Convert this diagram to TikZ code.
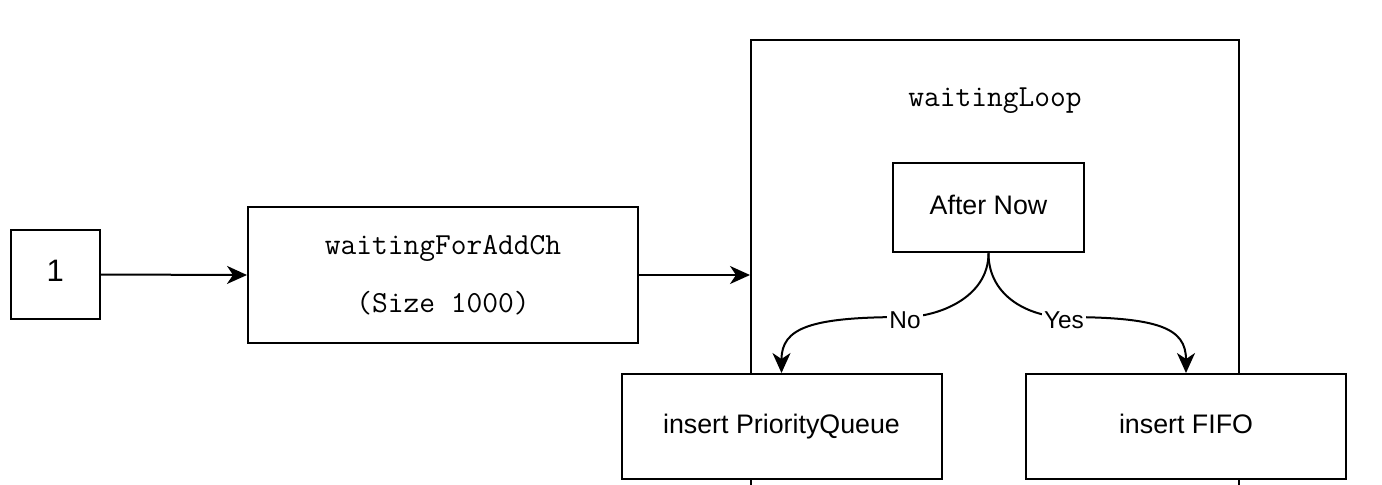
\documentclass[tikz,border=0pt]{standalone}
\usepackage{fontspec}
\setmainfont{Liberation Sans}
\usetikzlibrary{arrows.meta}
\begin{document}
\begin{tikzpicture}[x=0.5pt,y=-0.5pt,
  box/.style={draw, line width=1pt, fill=white, inner sep=0pt, text height=0.72em, text depth=0pt, font=\fontsize{13.4}{16}\selectfont},
  arr/.style={-{Stealth[length=10pt,width=9pt,inset=3pt]}, line width=1pt},
  lbl/.style={fill=white, inner sep=1pt, yshift=-1.5pt, font=\fontsize{12.2}{14}\selectfont},
  code/.style={font=\ttfamily\fontsize{15.3}{29}\selectfont, align=center}]
\useasboundingbox (0,0) rectangle (1382,484);
\clip (0,0) rectangle (1382,484);
% outer loop box (runs past bottom edge)
\node[draw, line width=1pt, minimum width=244pt, minimum height=260pt, inner sep=0pt] (loop) at (995,300) {};
\node[code] (looplbl) at (995,101) {waitingLoop};
% boxes
\node[box, font=\fontsize{15.5}{18}\selectfont, minimum width=44.7pt, minimum height=44.5pt] (b1) at (55.3,274.5) {1};
\node[draw, fill=white, line width=1pt, inner sep=0pt, code, minimum width=195pt, minimum height=68pt] (wfa) at (443,275) {waitingForAddCh\\(Size 1000)};
\node[box, minimum width=95.5pt, minimum height=44.75pt] (an) at (988.5,207.5) {After Now};
\node[box, minimum width=160pt, minimum height=52.5pt] (pq) at (781.5,426.5) {insert PriorityQueue};
\node[box, minimum width=160pt, minimum height=52.5pt] (fifo) at (1186,426.5) {insert FIFO};
% connectors
\draw[arr] (b1.east) -- (wfa.west);
\draw[arr] (wfa.east) -- (wfa.east -| loop.west);
\draw[arr] (an.south) .. controls +(0,45) and +(32,0) .. (905,317) node[lbl]{No}
  .. controls +(-95,0) and +(0,-45) .. (pq.north);
\draw[arr] (an.south) .. controls +(0,45) and +(-32,0) .. (1064,317) node[lbl]{Yes}
  .. controls +(95,0) and +(0,-45) .. (fifo.north);
\end{tikzpicture}
\end{document}
